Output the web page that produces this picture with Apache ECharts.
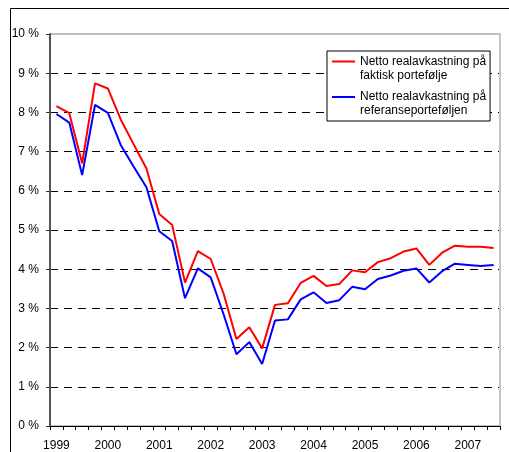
<!DOCTYPE html>
<html>
<head>
<meta charset="utf-8">
<script src="https://cdn.jsdelivr.net/npm/echarts@6/dist/echarts.min.js"></script>
<style>
  html, body { margin: 0; padding: 0; background: #fff; }
  #main { width: 509px; height: 452px; }
</style>
</head>
<body>
<div id="main"></div>
<script>
// kvartaler 1999K1 - 2007K3
var quarters = [
  '1999K1', '1999K2', '1999K3', '1999K4',
  '2000K1', '2000K2', '2000K3', '2000K4',
  '2001K1', '2001K2', '2001K3', '2001K4',
  '2002K1', '2002K2', '2002K3', '2002K4',
  '2003K1', '2003K2', '2003K3', '2003K4',
  '2004K1', '2004K2', '2004K3', '2004K4',
  '2005K1', '2005K2', '2005K3', '2005K4',
  '2006K1', '2006K2', '2006K3', '2006K4',
  '2007K1', '2007K2', '2007K3'
]
var faktisk = [
  8.16, 7.98, 6.70, 8.74, 8.61, 7.82, 7.19, 6.57, 5.41, 5.13, 3.66, 4.46,
  4.26, 3.38, 2.22, 2.52, 1.98, 3.09, 3.13, 3.65, 3.83, 3.57, 3.62, 3.97,
  3.92, 4.18, 4.28, 4.45, 4.53, 4.11, 4.42, 4.60, 4.57, 4.57, 4.54
]
var referanse = [
  7.96, 7.74, 6.40, 8.19, 7.99, 7.17, 6.62, 6.09, 4.97, 4.72, 3.26, 4.02,
  3.79, 2.85, 1.83, 2.14, 1.58, 2.69, 2.72, 3.23, 3.41, 3.14, 3.21, 3.55,
  3.49, 3.75, 3.84, 3.96, 4.02, 3.66, 3.95, 4.14, 4.11, 4.08, 4.11
]
var names = ['Netto realavkastning på\nfaktisk portefølje', 'Netto realavkastning på\nreferanseporteføljen']

var font = '"Liberation Sans", Arial, sans-serif'
var myChart = echarts.init(document.getElementById('main'))

var option = {
  animation: false,
  backgroundColor: '#fff',
  textStyle: { fontFamily: font },
  graphic: [
    {
      type: 'rect',
      shape: { x: 10.5, y: 8.5, width: 600, height: 600 },
      style: { fill: 'none', stroke: '#000', lineWidth: 1 },
      silent: true
    }
  ],
  legend: {
    orient: 'vertical',
    left: 327,
    top: 51,
    padding: [3.5, 4, 3, 5],
    itemGap: 7.5,
    itemWidth: 23,
    itemHeight: 28,
    icon: 'path://M0,0L0,0M0,6L23,6L23,8L0,8ZM23,28L23,28',
    itemStyle: { borderWidth: 0 },
    backgroundColor: '#fff',
    borderColor: '#000',
    borderWidth: 1,
    textStyle: { fontFamily: font, fontSize: 12, color: '#000', lineHeight: 14 },
    data: names
  },
  grid: {
    left: 50,
    right: 9,
    top: 34,
    bottom: 26,
    show: true,
    borderColor: '#808080',
    borderWidth: 1
  },
  xAxis: [
    {
      type: 'category',
      data: quarters,
      boundaryGap: true,
      axisLine: { lineStyle: { color: '#000', width: 1 } },
      axisTick: { show: true, interval: 0, length: 4, lineStyle: { color: '#000' } },
      axisLabel: {
        interval: 3,
        margin: 14,
        color: '#000',
        fontSize: 12,
        fontFamily: font,
        formatter: function (v) { return v.slice(0, 4) }
      },
      splitLine: { show: false }
    }
  ],
  yAxis: [
    {
      type: 'value',
      min: 0,
      max: 10,
      interval: 1,
      axisLine: { show: true, lineStyle: { color: '#555', width: 2 } },
      axisTick: { show: true, length: 4, lineStyle: { color: '#333' } },
      axisLabel: {
        margin: 11,
        color: '#000',
        fontSize: 12,
        fontFamily: font,
        formatter: '{value} %'
      },
      splitLine: {
        show: true,
        showMinLine: false,
        showMaxLine: false,
        lineStyle: { color: '#000', width: 1, type: [8, 6] }
      }
    },
    {
      type: 'value',
      position: 'right',
      min: 0,
      max: 10,
      interval: 1,
      axisLine: { show: true, lineStyle: { color: '#c4c4c4', width: 2 } },
      axisTick: { show: false },
      axisLabel: { show: false },
      splitLine: { show: false }
    }
  ],
  series: [
    {
      name: names[0],
      type: 'line',
      data: faktisk,
      symbol: 'none',
      color: '#ff0000',
      lineStyle: { color: '#ff0000', width: 2 }
    },
    {
      name: names[1],
      type: 'line',
      data: referanse,
      symbol: 'none',
      color: '#0000ff',
      lineStyle: { color: '#0000ff', width: 2 }
    }
  ]
}

myChart.setOption(option)
</script>
</body>
</html>
